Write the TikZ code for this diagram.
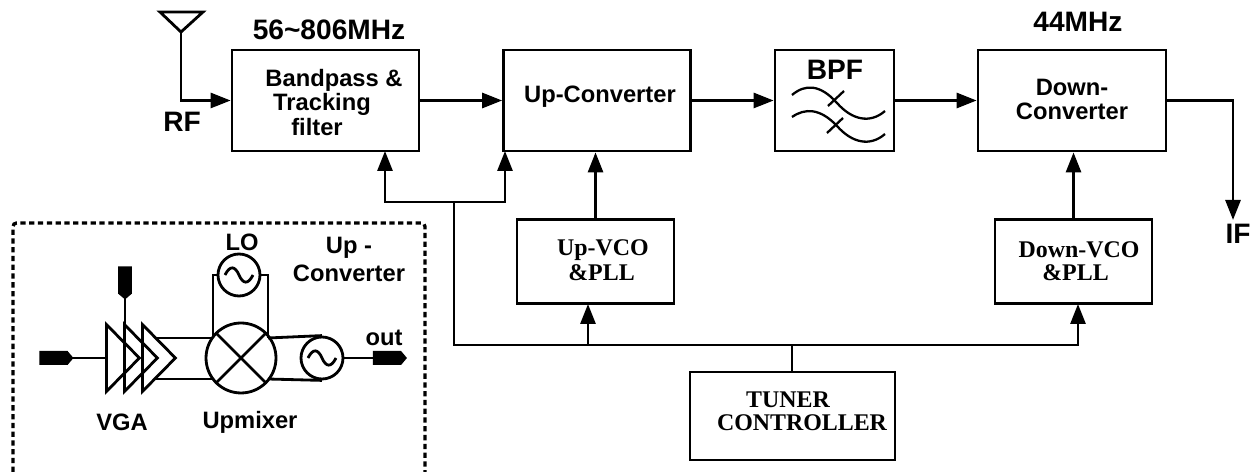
\documentclass[tikz,border=0pt]{standalone}
\usepackage{fontspec}
\setmainfont{Liberation Serif}
\setsansfont{Liberation Sans}
\usetikzlibrary{arrows.meta, positioning, shapes.geometric, shapes.symbols}

\begin{document}
\begin{tikzpicture}[
    x=0.02cm, y=-0.02cm,
    line width=1.6pt,
    block/.style={rectangle, draw, inner sep=0pt},
    lbl/.style={font=\sffamily\bfseries\fontsize{13.5}{15}\selectfont, inner sep=0pt},
    biglbl/.style={font=\sffamily\bfseries\fontsize{16}{18}\selectfont, inner sep=0pt},
    serlbl/.style={font=\rmfamily\bfseries\fontsize{13.6}{15}\selectfont, inner sep=0pt},
    src/.style={circle, draw, inner sep=0pt, minimum size=0.84cm},
    amp/.style={isosceles triangle, isosceles triangle apex angle=90, draw, inner sep=0pt,
        minimum height=0.66cm, minimum width=1.34cm, isosceles triangle stretches, anchor=lower side},
    port/.style={signal, signal to=east, signal pointer angle=100, fill=black, inner sep=0pt,
        minimum width=0.68cm, minimum height=0.28cm},
    arrow/.style={-{Triangle[length=0.4cm, width=0.3cm]}}
]
\useasboundingbox (0,0) rectangle (1258,472);

% main chain
\node[block, minimum width=3.74cm, minimum height=2.02cm] (filter) at (325.5,100.5) {};
\node[block, minimum width=3.74cm, minimum height=2.02cm] (upconv) at (597,100.5) {};
\node[block, minimum width=2.38cm, minimum height=2.02cm] (bpf) at (834.5,100.5) {};
\node[block, minimum width=3.76cm, minimum height=2.02cm] (downconv) at (1072,100.5) {};
\node[block, minimum width=3.14cm, minimum height=1.69cm] (upvco) at (595.5,261.5) {};
\node[block, minimum width=3.14cm, minimum height=1.69cm] (downvco) at (1073.5,261.5) {};
\node[block, minimum width=4.1cm, minimum height=1.76cm] (tuner) at (792.5,416) {};

% labels
\node[biglbl] (rflabel) at (182,122) {RF};
\node[biglbl] (iflabel) at (1238,234) {IF};
\node[biglbl] (rfband) at (329,30) {56\textasciitilde806MHz};
\node[biglbl] (ifband) at (1078,22) {44MHz};
\node[lbl] (filtera) at (334,80) {Bandpass \&};
\node[lbl] (filterb) at (322,104) {Tracking};
\node[lbl] (filterc) at (317,127) {filter};
\node[lbl] (uplabel) at (600,97) {Up-Converter};
\node[biglbl] (bpflabel) at (835,70) {BPF};
\node[lbl] (downa) at (1072,87) {Down-};
\node[lbl] (downb) at (1072,111) {Converter};
\node[serlbl] (upvcoa) at (603,250) {Up-VCO};
\node[serlbl] (upvcob) at (601.5,273) {\&PLL};
\node[serlbl] (downvcoa) at (1079,250) {Down-VCO};
\node[serlbl] (downvcob) at (1075.5,273) {\&PLL};
\node[serlbl] (tunera) at (788,400) {TUNER};
\node[serlbl] (tunerb) at (802,423) {CONTROLLER};

% antenna
\coordinate (antenna) at (181,32);
\draw (160,12) -- (203,12) -- (antenna) -- cycle;
\draw[arrow] (antenna) |- (filter.west);

% signal path
\draw[arrow] (filter) -- (upconv);
\draw[arrow] (upconv) -- (bpf);
\draw[arrow] (bpf) -- (downconv);
\coordinate (ifend) at (1233,220);
\draw[arrow] (downconv.east) -| (ifend);

% vco and control
\draw[arrow] (upvco.north) -- (upconv.south -| upvco.north);
\draw[arrow] (downvco.north) -- (downconv.south -| downvco.north);
\coordinate (busa) at (454,202);
\coordinate (busb) at (454,345);
\coordinate (busc) at (792,345);
\draw[arrow] (busa) -| (385,151);
\draw[arrow] (busa) -| (505,151);
\draw (busa) -- (busb) -- (busc);
\draw (tuner.north -| busc) -- (busc);
\draw[arrow] (busb) -| (588,304);
\draw[arrow] (busc) -| (1078,304);

% filter symbol
\draw[line width=1.3pt] (792,95) .. controls (805,84) and (820,84) .. (837,103) .. controls (852,120) and (870,124) .. (885,111);
\draw[line width=1.3pt] (792,117) .. controls (805,108) and (820,108) .. (837,126) .. controls (852,143) and (870,147) .. (885,134);
\draw[line width=1.3pt] (828,106) -- (844,91);
\draw[line width=1.3pt] (827,133) -- (843,118);

% inset
\draw[densely dashed, line width=1.9pt, rounded corners=2pt] (13,472) -- (13,223) -- (425,223) -- (425,472);
\node[lbl] (lolabel) at (242,242) {LO};
\node[lbl] (insa) at (349,248) {Up -};
\node[lbl] (insb) at (349,273) {Converter};
\node[lbl] (outlabel) at (384,338) {out};
\node[lbl] (vgalabel) at (122,422) {VGA};
\node[lbl] (mixlabel) at (250,422) {Upmixer};

\node[port] (portin) at (53.5,358) {};
\node[port] (portout) at (387,358) {};
\node[port, rotate=-90, minimum width=0.66cm] (portctl) at (125,280) {};
\node[amp] (ampa) at (105,358) {};
\node[amp] (ampb) at (123,358) {};
\node[amp] (ampc) at (141,358) {};
\node[src, minimum size=1.4cm] (mixer) at (241,358) {};
\node[src] (lo) at (239,275) {};
\node[src] (ifsrc) at (322,358) {};

\draw (mixer.45) -- (mixer.225);
\draw (mixer.135) -- (mixer.315);
\draw (portin.center) -- (ampa.lower side);
\draw (portctl.center) -- (125,325);
\draw (155,338) -- (213,338);
\draw (155,379) -- (213,379);
\draw (lo.west) -- (213,275) -- (213,338);
\draw (lo.east) -- (268,275) -- (268,338);
\draw (268,338) -- (ifsrc.north);
\draw (268,379) -- (ifsrc.south);
\draw (ifsrc.east) -- (portout.center);

% sine marks
\draw (225,275) .. controls (230,265) and (235,266) .. (239,275) .. controls (243,284) and (248,285) .. (253,275);
\draw (308,358) .. controls (313,348) and (318,349) .. (322,358) .. controls (326,367) and (331,368) .. (336,358);
\end{tikzpicture}
\end{document}
